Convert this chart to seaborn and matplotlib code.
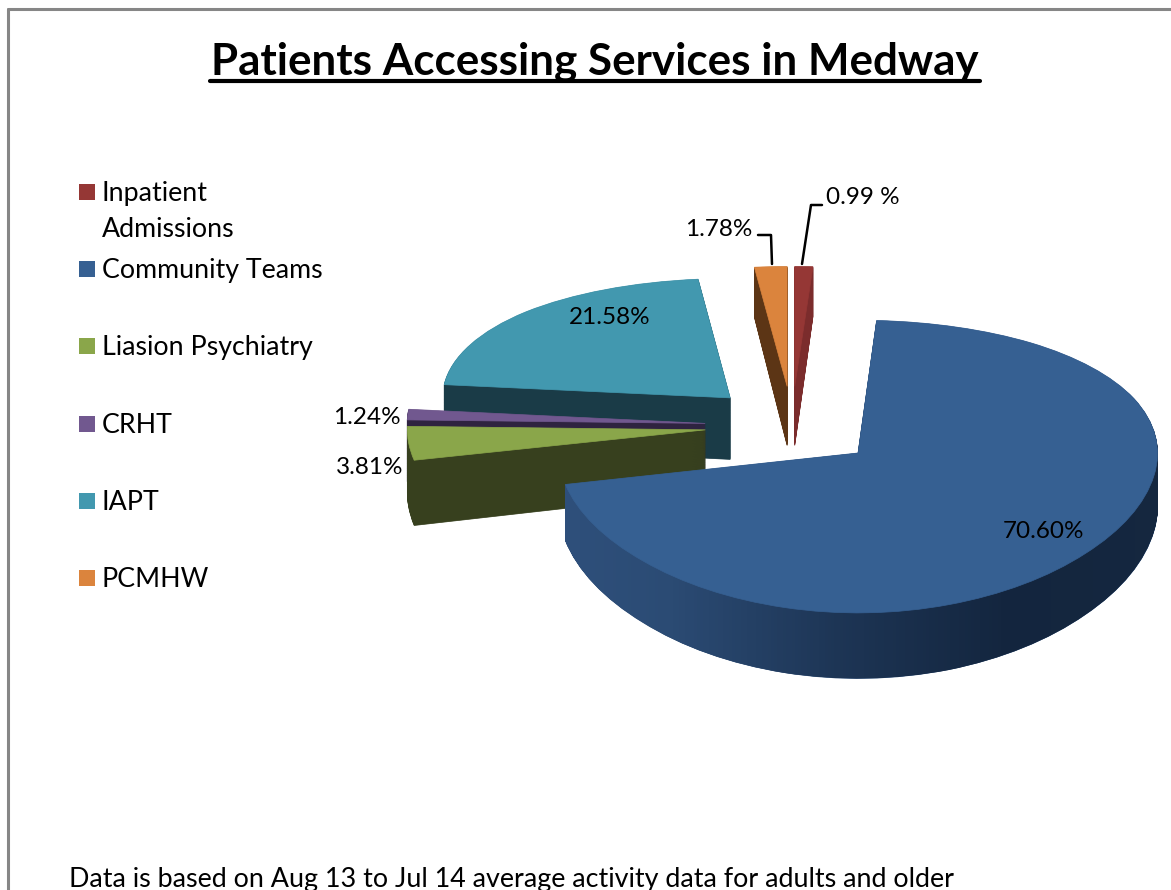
import numpy as np
import seaborn as sns
import matplotlib.pyplot as plt
from matplotlib.lines import Line2D
from matplotlib.patches import Rectangle
from matplotlib.path import Path

# chart data
services = ['Inpatient\nAdmissions', 'Community Teams', 'Liasion Psychiatry', 'CRHT', 'IAPT', 'PCMHW']
share = [0.99, 70.60, 3.81, 1.24, 21.58, 1.78]
share_labels = ['0.99 %', '70.60%', '3.81%', '1.24%', '21.58%', '1.78%']
title_text = 'Patients Accessing Services in Medway'
note_text = 'Data is based on Aug 13 to Jul 14 average activity data for adults and older'

top_colors = ['#953735', '#366092', '#8aa64a', '#71588f', '#4298af', '#db843d']
side_colors = ['#7b2c2c', '#2a4a73', '#37401e', '#2f2340', '#1a3b47', '#5c3515']
stack_order = [1.5, 4, 3, 2, 1, 1.5]  # back to front
slice_radius = [0.985, 1.005, 1, 1, 0.965, 0.985]
slice_depth = [0.43, 0.36, 0.43, 0.43, 0.44, 0.43]

W, H = 1171, 890
sns.set_theme(style='white')
plt.rcParams['font.family'] = ['Lato', 'DejaVu Sans']

fig = plt.figure(figsize=(W / 100, H / 100), dpi=100, facecolor='white')
ax = fig.add_axes([0, 0, 1, 1])


def px(x, y):
    return x / W, 1 - y / H


# fake perspective: far side of the pie squashed more than the near side
a, b = 139.4, 0.0908


def forward(y):
    return a * y / (1 + b * y)


def inverse(s):
    return s / (a - b * s)


n_layers = 100
explode = [0.292] * len(share)

side_wedges = []
for k in range(n_layers, 0, -1):
    wedges, _ = ax.pie(share, explode=explode, colors=side_colors, startangle=90, counterclock=False,
                       frame=True, wedgeprops={'linewidth': 0.5})
    for w, z, r, d in zip(wedges, stack_order, slice_radius, slice_depth):
        cx, cy = w.center
        w.set_center((cx, cy - d * k / n_layers))
        w.set_radius(r)
        w.set_edgecolor(w.get_facecolor())
        w.set_zorder(z + (n_layers - k) * 0.001)
    side_wedges.append(wedges[1])

tops, _ = ax.pie(share, explode=explode, colors=top_colors, startangle=90, counterclock=False,
                 frame=True, wedgeprops={'linewidth': 0.5})
for w, z, r in zip(tops, stack_order, slice_radius):
    w.set_radius(r)
    w.set_edgecolor(w.get_facecolor())
    w.set_zorder(z + 0.3)

ax.set_aspect('auto')
ax.set_yscale('function', functions=(forward, inverse))
ax.set_xlim(-792 / 298, (W - 792) / 298)
ax.set_ylim(inverse(426 - H), inverse(426))

# shaded rim of the big slice
rim = sns.blend_palette(['#30527f', '#2b4b74', '#1d3555', '#13253e', '#15273f'], as_cmap=True)
xs = np.linspace(-1, 1.3, 231)
ys = np.array([-2.2, 0.3])
mesh = ax.pcolormesh(xs, ys, np.linspace(0, 1, 230).reshape(1, -1), cmap=rim, zorder=4.2, shading='flat')
mesh.set_clip_path(Path.make_compound_path(*[w.get_path().transformed(w.get_patch_transform())
                                             for w in side_wedges]), ax.transData)
ax.axis('off')

# chart frame
for xx, yy in [((8, 8), (890, 9)), ((8, W), (9, 9))]:
    x0, y0 = px(xx[0], yy[0])
    x1, y1 = px(xx[1], yy[1])
    fig.add_artist(Line2D([x0, x1], [y0, y1], color='#868686', lw=2.2))

# title + underline
tx, ty = px(595, 62)
title = fig.text(tx, ty, title_text, fontsize=31.7, fontweight='bold', color='black', ha='center', va='center')
fig.canvas.draw()
bb = title.get_window_extent()
x0, y0 = px(bb.x0 - 1, 80.5)
x1, y1 = px(bb.x1 + 1, 80.5)
fig.add_artist(Line2D([x0, x1], [y0, y1], color='black', lw=3))

# legend
legend_y = [192, 269, 346, 424, 501, 578]
for name, col, yy in zip(services, top_colors, legend_y):
    x0, y0 = px(79, yy + 8)
    fig.add_artist(Rectangle((x0, y0), 16 / W, 16 / H, transform=fig.transFigure, color=col, lw=0))
    lines = name.split('\n')
    for i, line in enumerate(lines):
        tx, ty = px(102, yy + 1.5 + i * 36)
        fig.text(tx, ty, line, fontsize=19.3, color='black', ha='left', va='center')

# slice labels
label_pos = [(826, 198, 'left'), (1044, 532, 'center'), (403, 468, 'right'),
             (401, 418, 'right'), (610, 317, 'center'), (752, 229, 'right')]
for lab, (xx, yy, al) in zip(share_labels, label_pos):
    tx, ty = px(xx, yy)
    fig.text(tx, ty, lab, fontsize=17.5, color='black', ha=al, va='center', zorder=10)

# leader lines
for path in [[(758, 235), (771, 235), (772, 264)], [(822, 205), (811, 205), (802, 264)]]:
    pts = [px(*p) for p in path]
    fig.add_artist(Line2D([p[0] for p in pts], [p[1] for p in pts], color='black', lw=1.8))

tx, ty = px(69, 880)
fig.text(tx, ty, note_text, fontsize=19.4, color='black', ha='left', va='center')

fig.savefig('out.png', dpi=100)
